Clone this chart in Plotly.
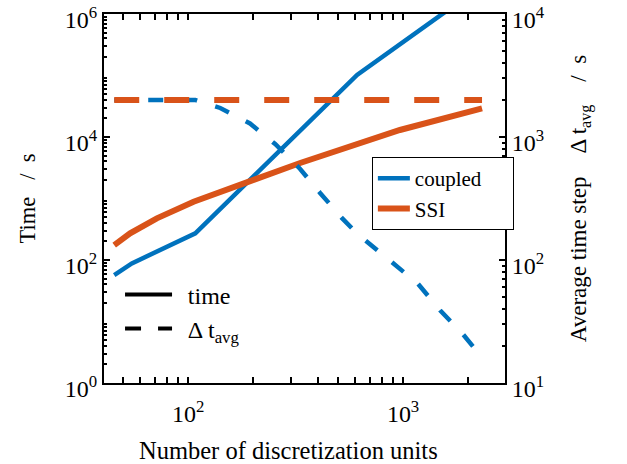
import plotly.graph_objects as go
import numpy as np

# ---- data ----
n_coupled = [45.3, 54.7, 108, 611, 2330]
time_coupled = [57, 88, 272, 1.02e5, 2.9e6]

n_ssi = [45.3, 53.7, 71.5, 106, 332, 967, 2330]
time_ssi = [175, 272, 476, 887, 3776, 13000, 29300]

n_dt_coupled = [45.3, 108, 141, 194, 254, 332, 411, 520, 611, 889, 1174, 1486, 1879, 2305]
dt_coupled = [2000, 2000, 1722, 1288, 877, 550, 351, 219, 164, 95, 64, 39, 25.5, 16.5]

n_dt_ssi = [45.3, 2330]
dt_ssi = [2000, 2000]

x_ticks = [100, 1000]
x_ticklabels = ["10<sup>2</sup>", "10<sup>3</sup>"]
y_ticks = [1, 1e2, 1e4, 1e6]
y_ticklabels = ["10<sup>0</sup>", "10<sup>2</sup>", "10<sup>4</sup>", "10<sup>6</sup>"]
y2_ticks = [10, 100, 1000, 10000]
y2_ticklabels = ["10<sup>1</sup>", "10<sup>2</sup>", "10<sup>3</sup>", "10<sup>4</sup>"]

BLUE = "#0072BD"
ORANGE = "#D95319"
FONT = "Liberation Serif"
NB = "\u00a0"


def minor_vals(lo_exp, hi_exp):
    return [k * 10 ** e for e in range(lo_exp, hi_exp) for k in range(2, 10)]


fig = go.Figure()

fig.add_trace(go.Scatter(x=n_coupled, y=time_coupled, mode="lines",
                         line=dict(color=BLUE, width=4.5), name="coupled" + NB * 5,
                         legend="legend"))
fig.add_trace(go.Scatter(x=n_ssi, y=time_ssi, mode="lines",
                         line=dict(color=ORANGE, width=6), name="SSI",
                         legend="legend"))
fig.add_trace(go.Scatter(x=n_dt_coupled, y=dt_coupled, mode="lines", yaxis="y2",
                         line=dict(color=BLUE, width=4.5, dash="15px,19px"),
                         showlegend=False))
fig.add_trace(go.Scatter(x=n_dt_ssi, y=dt_ssi, mode="lines", yaxis="y2",
                         line=dict(color=ORANGE, width=6, dash="25px,25px"),
                         showlegend=False))

# style legend entries
fig.add_trace(go.Scatter(x=[None], y=[None], mode="lines", name=NB + "\u2009time",
                         line=dict(color="black", width=4), legend="legend2"))
fig.add_trace(go.Scatter(x=[None], y=[None], mode="lines",
                         name=NB + "\u2009Δ t<sub>avg</sub>",
                         line=dict(color="black", width=4, dash="16px,17px"),
                         legend="legend2"))

axis_common = dict(
    showgrid=False, zeroline=False, showline=True, linecolor="black",
    linewidth=2, ticks="inside", ticklen=6, tickwidth=1.5, tickcolor="black",
    tickfont=dict(family=FONT, size=24, color="black"),
    automargin=False, ticklabeloverflow="allow",
)

fig.update_layout(
    width=627, height=464,
    margin=dict(l=104, r=122, t=14, b=81),
    plot_bgcolor="white", paper_bgcolor="white",
    font=dict(family=FONT, color="black"),
    xaxis=dict(type="log", range=[np.log10(40.6), np.log10(2980)],
               tickmode="array", tickvals=x_ticks, ticktext=x_ticklabels,
               mirror="allticks", ticklabelstandoff=8,
               minor=dict(ticks="inside", ticklen=3, tickcolor="black",
                          tickvals=minor_vals(1, 4)),
               **axis_common),
    yaxis=dict(type="log", range=[0, 6], tickmode="array",
               tickvals=y_ticks, ticktext=y_ticklabels, ticklabelshift=6,
               minor=dict(ticks="inside", ticklen=3, tickcolor="black",
                          tickvals=minor_vals(0, 6)),
               title=dict(text="Time" + NB * 3 + "/" + NB * 2 + "s",
                          font=dict(family=FONT, size=22.5), standoff=23),
               **axis_common),
    yaxis2=dict(type="log", range=[1, 4], overlaying="y", side="right",
                tickmode="array", tickvals=y2_ticks, ticktext=y2_ticklabels,
                ticklabelshift=6,
                minor=dict(ticks="inside", ticklen=3, tickcolor="black",
                           tickvals=minor_vals(1, 4)),
                title=dict(text="Average time step" + NB * 4 + "Δ t<sub>avg</sub>" + NB * 4 + "/" + NB * 2 + "s",
                           font=dict(family=FONT, size=23), standoff=26),
                **axis_common),
    legend=dict(x=0.668, y=0.6125, xanchor="left", yanchor="top",
                bgcolor="white", bordercolor="black", borderwidth=1,
                font=dict(family=FONT, size=21), itemwidth=32),
    legend2=dict(x=0.04, y=0.30, xanchor="left", yanchor="top",
                 bgcolor="rgba(0,0,0,0)", borderwidth=0,
                 font=dict(family=FONT, size=24), itemwidth=47),
    annotations=[dict(text="Number of discretization units", xref="paper", yref="paper",
                      x=0.459, y=-0.182, xanchor="center", yanchor="middle",
                      showarrow=False, font=dict(family=FONT, size=24.5, color="black"))],
)

fig.write_html("out.html")
